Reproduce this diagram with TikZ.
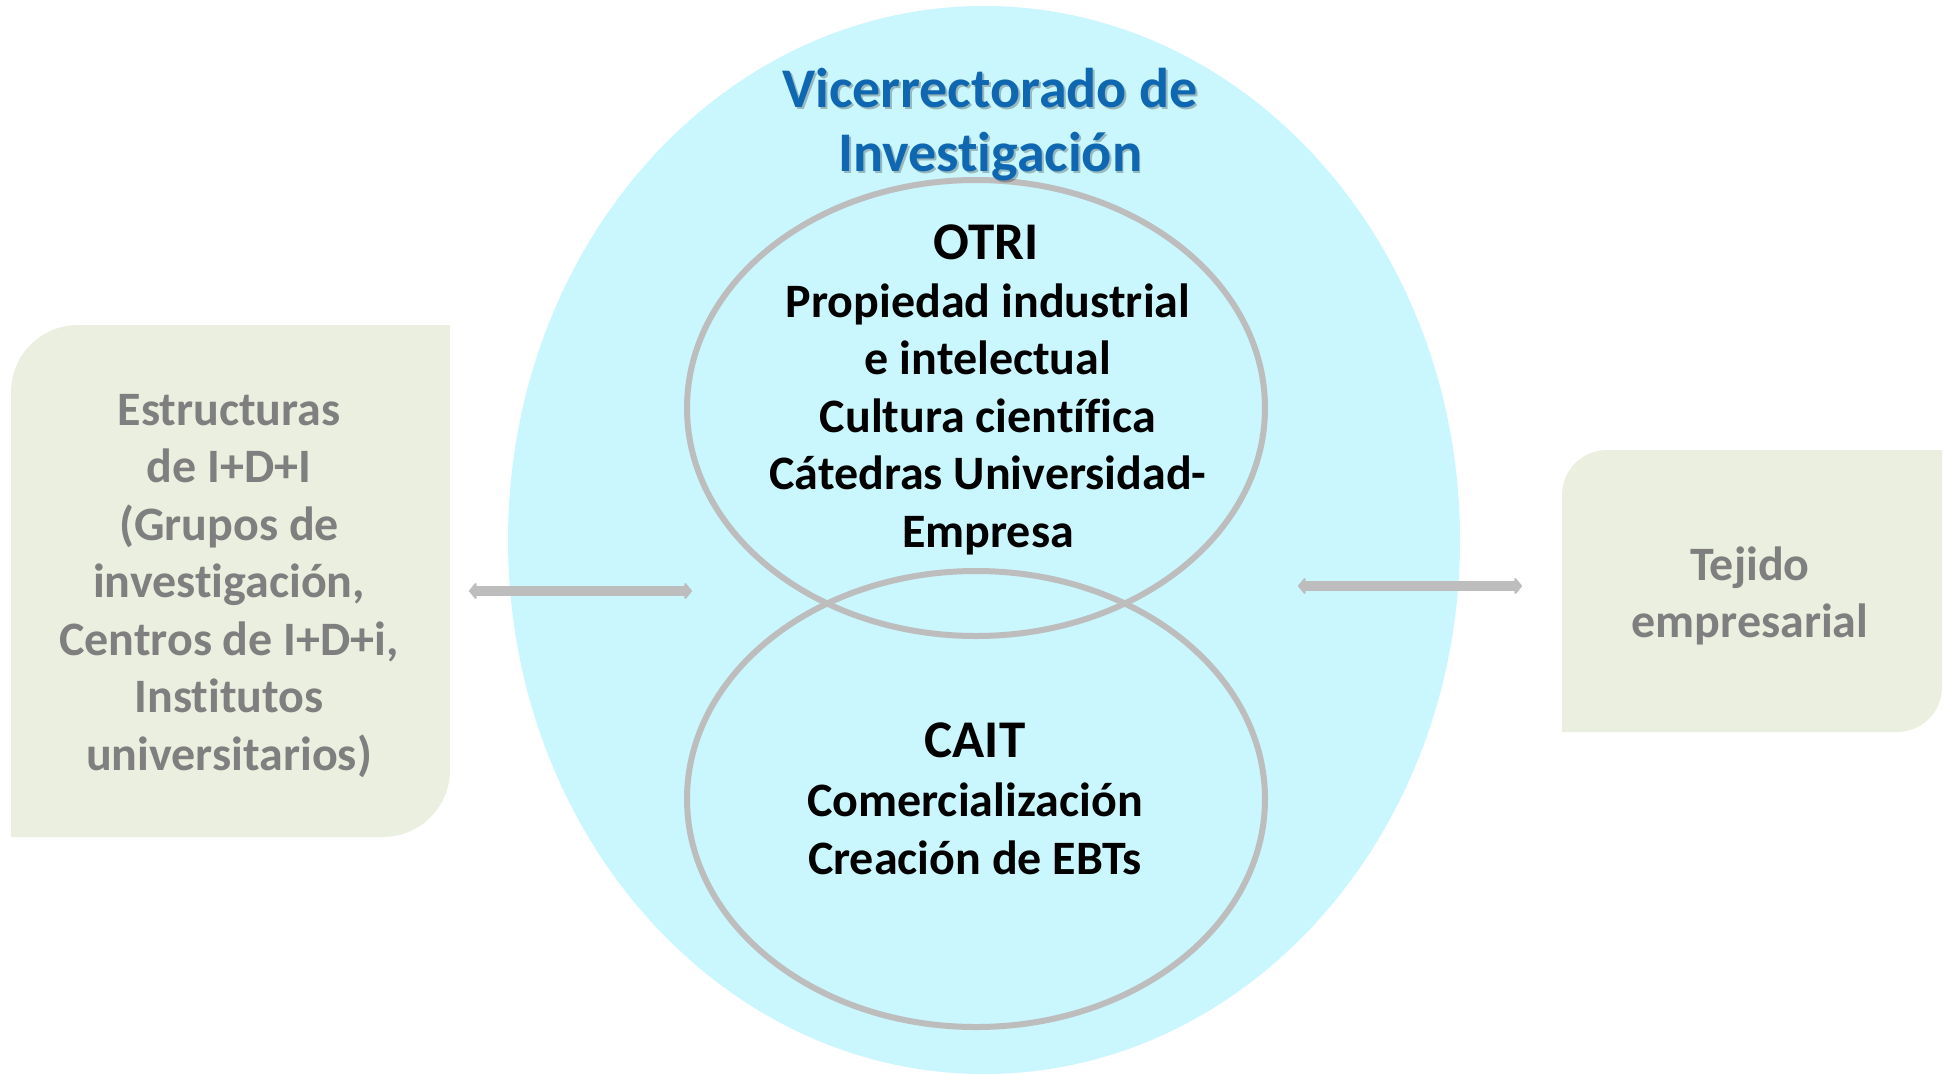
\documentclass[tikz,border=0pt]{standalone}
\usepackage{fontspec}
\setmainfont[Ligatures=NoCommon, RawFeature={-liga,-clig,-calt,-dlig}]{Carlito}
\usetikzlibrary{arrows.meta,shapes.geometric}
\definecolor{vicefill}{HTML}{CAF6FD}
\definecolor{viceblue}{HTML}{0F67B1}
\definecolor{rimgray}{HTML}{BDBDBD}
\definecolor{boxfill}{HTML}{EBEFDF}
\definecolor{boxtext}{HTML}{7F7F7F}
\newcommand{\rimwidth}{6pt}
\tikzset{
  bodytext/.style={align=center, inner sep=0pt, font=\bfseries\fontsize{48}{57.5}\selectfont},
  headtext/.style={bodytext, font=\bfseries\fontsize{53}{60}\selectfont},
  sidetext/.style={bodytext, text=boxtext},
  titletext/.style={align=center, inner sep=0pt, font=\bfseries\fontsize{56}{64}\selectfont},
  ring/.style={draw=rimgray, line width=\rimwidth, ellipse, minimum width=578pt, minimum height=456pt, inner sep=0pt},
  link/.style={rimgray, line width=10pt, {Triangle[width=19pt,length=8pt,round]}-{Triangle[width=19pt,length=8pt,round]}}
}

\begin{document}
\begin{tikzpicture}[x=1pt,y=-1pt]
  \useasboundingbox (0,0) rectangle (1945,1074);

  \node (vice) at (984,540) [ellipse, fill=vicefill, minimum width=952pt, minimum height=1068pt, inner sep=0pt] {};
  \node (otri) at (976,408) [ring] {};
  \node (cait) at (976,799) [ring] {};

  \fill[boxfill] (11,392) .. controls (11,355) and (41,325) .. (78,325) -- (450,325)
    -- (450,770) .. controls (450,807) and (420,837) .. (383,837) -- (11,837) -- cycle;
  \fill[boxfill] (1562,495) .. controls (1562,470) and (1582,450) .. (1607,450) -- (1942,450)
    -- (1942,687) .. controls (1942,712) and (1922,732) .. (1897,732) -- (1562,732) -- cycle;

  \node (vicetitleshadow) at (992,127) [titletext, text=black, opacity=.25] {Vicerrectorado de\\Investigación};
  \node (vicetitle) at (990,125) [titletext, text=viceblue] {Vicerrectorado de\\Investigación};

  \node (otrihead) at (986,242) [headtext] {OTRI};
  \node (otribody) at (988,419) [bodytext] {Propiedad industrial\\e intelectual\\Cultura científica\\Cátedras Universidad-\\Empresa};
  \node (caithead) at (975,740) [headtext] {CAIT};
  \node (caitbody) at (975,829) [bodytext] {Comercialización\\Creación de EBTs};

  \node (estructuras) at (229,586) [sidetext] {Estructuras\\de I+D+I\\(Grupos de\\investigación,\\Centros de I+D+i,\\Institutos\\universitarios)};
  \node (tejido) at (1750,596) [sidetext] {Tejido\\empresarial};

  \coordinate (leftout) at (469,591);
  \coordinate (leftin) at (692,591);
  \coordinate (rightin) at (1298,586);
  \coordinate (rightout) at (1522,586);
  \draw[link] (leftout) -- (leftin);
  \draw[link] (rightin) -- (rightout);

\end{tikzpicture}
\end{document}
